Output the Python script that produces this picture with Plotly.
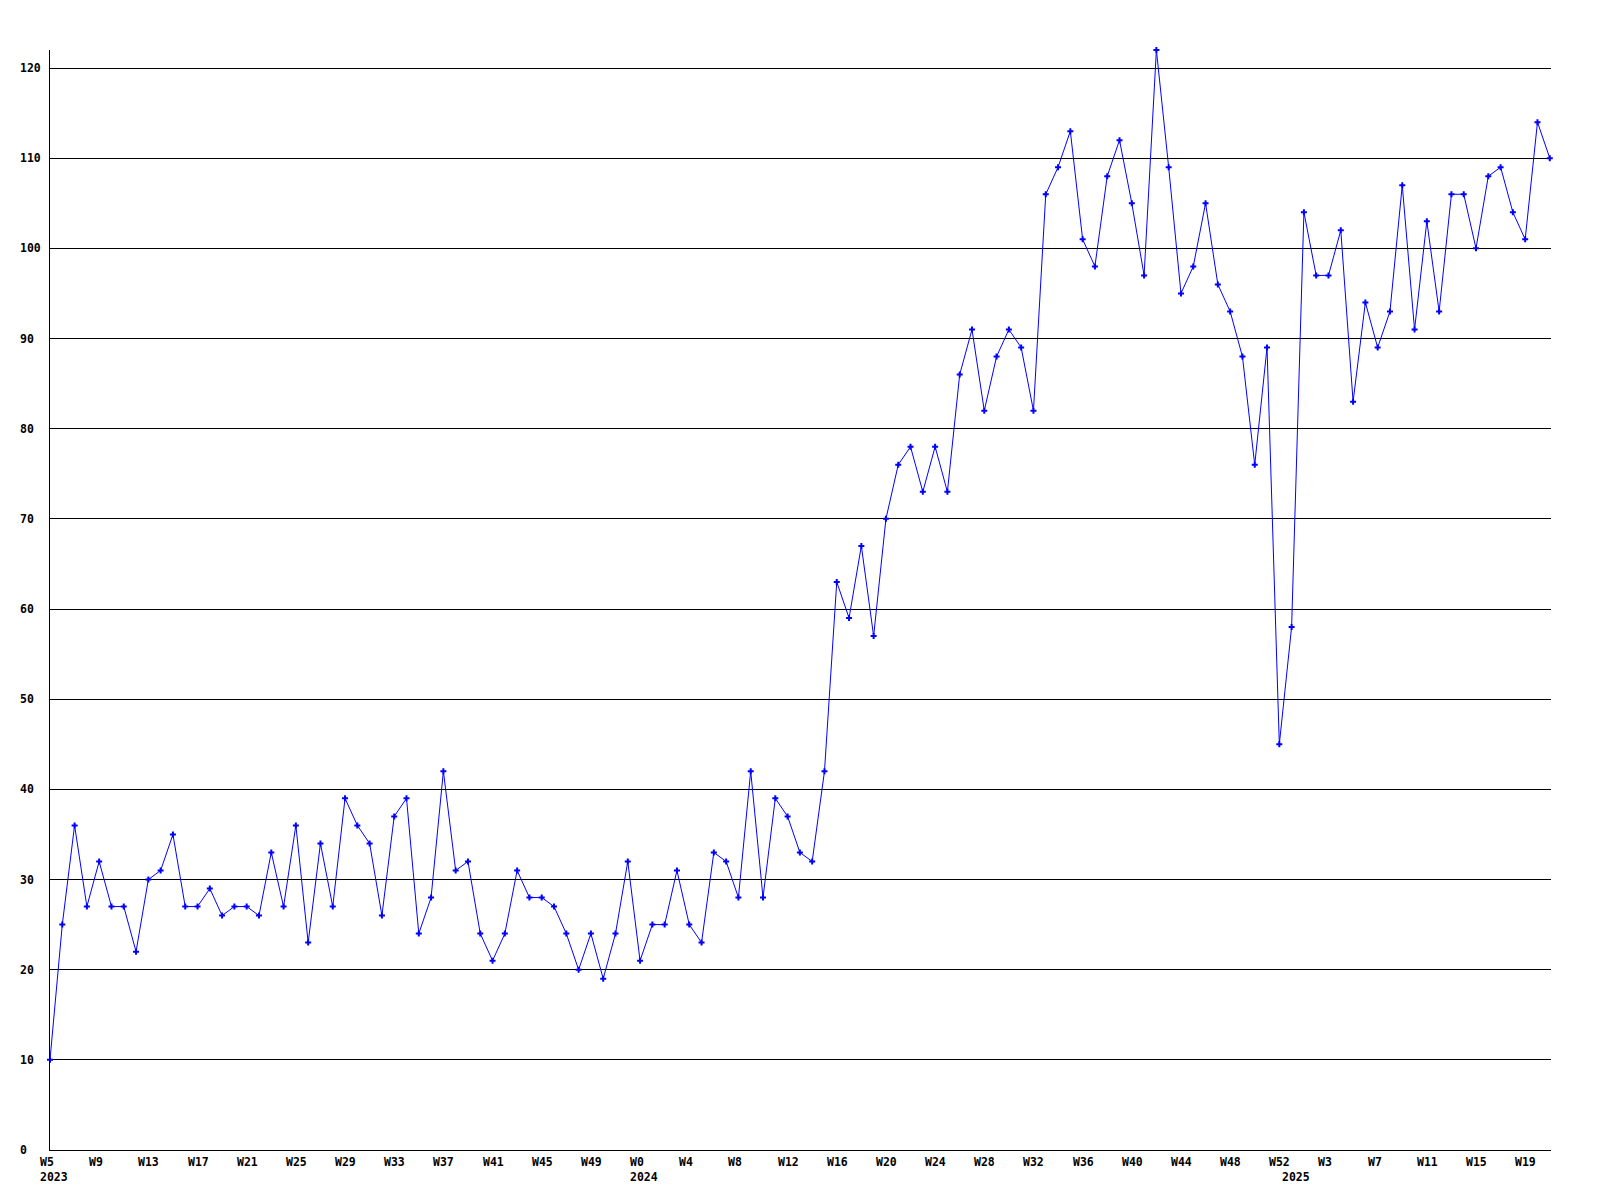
import plotly.graph_objects as go

# ---- data ----
weeks_2023 = list(range(5, 53))
weeks_2024 = list(range(0, 53))
weeks_2025 = list(range(0, 22))

values_2023 = [10, 25, 36, 27, 32, 27, 27, 22, 30, 31, 35, 27, 27, 29, 26, 27, 27, 26, 33, 27,
               36, 23, 34, 27, 39, 36, 34, 26, 37, 39, 24, 28, 42, 31, 32, 24, 21, 24, 31, 28,
               28, 27, 24, 20, 24, 19, 24, 32]
values_2024 = [21, 25, 25, 31, 25, 23, 33, 32, 28, 42, 28, 39, 37, 33, 32, 42, 63, 59, 67, 57,
               70, 76, 78, 73, 78, 73, 86, 91, 82, 88, 91, 89, 82, 106, 109, 113, 101, 98, 108, 112,
               105, 97, 122, 109, 95, 98, 105, 96, 93, 88, 76, 89, 45]
values_2025 = [58, 104, 97, 97, 102, 83, 94, 89, 93, 107, 91, 103, 93, 106, 106, 100, 108, 109, 104, 101,
               114, 110]

years = [2023, 2024, 2025]
y_tick_values = [0, 10, 20, 30, 40, 50, 60, 70, 80, 90, 100, 110, 120]

# ---- build series ----
week_lists = [weeks_2023, weeks_2024, weeks_2025]
value_lists = [values_2023, values_2024, values_2025]
weeks = []
vals = []
year_start_idx = []
for yr, wl, vl in zip(years, week_lists, value_lists):
    year_start_idx.append(len(weeks))
    weeks += wl
    vals += vl
x_idx = list(range(len(vals)))

FONT = dict(family="DejaVu Sans Mono", size=11.5, color="black", weight="bold")

fig = go.Figure()
fig.add_trace(go.Scatter(
    x=x_idx, y=vals, mode="lines+markers",
    line=dict(color="#0000FF", width=1),
    marker=dict(symbol="cross", size=5, color="#0000FF", line=dict(width=0)),
    cliponaxis=False,
    hoverinfo="skip", showlegend=False,
))

annotations = []
# y tick labels, left aligned
for v in y_tick_values:
    annotations.append(dict(
        xref="paper", x=0, xanchor="left", xshift=-31,
        yref="y", y=v, yanchor="middle",
        text=str(v), showarrow=False, font=FONT, borderpad=0,
    ))
# x tick labels every 4 weeks, left aligned
for i in range(0, len(weeks), 4):
    annotations.append(dict(
        xref="x", x=i, xanchor="left", xshift=-11,
        yref="paper", y=0, yanchor="middle", yshift=-12,
        text="W%d" % weeks[i], showarrow=False, font=FONT, borderpad=0,
    ))
# year labels
for yr, i in zip(years, year_start_idx):
    annotations.append(dict(
        xref="x", x=i, xanchor="left", xshift=-11,
        yref="paper", y=0, yanchor="middle", yshift=-27,
        text=str(yr), showarrow=False, font=FONT, borderpad=0,
    ))

fig.update_layout(
    width=1584, height=1184,
    margin=dict(l=42, r=41, t=42, b=42),
    paper_bgcolor="white", plot_bgcolor="white",
    font=FONT,
    annotations=annotations,
    xaxis=dict(range=[0, 122.1], showgrid=False, zeroline=False, showticklabels=False,
               ticks="", showline=True, linecolor="black", linewidth=1, fixedrange=True),
    yaxis=dict(range=[0, 122], showgrid=True, gridcolor="black", gridwidth=1, dtick=10,
               tick0=0, zeroline=False, showticklabels=False, ticks="",
               showline=True, linecolor="black", linewidth=1, fixedrange=True),
)

fig.write_html("out.html")
